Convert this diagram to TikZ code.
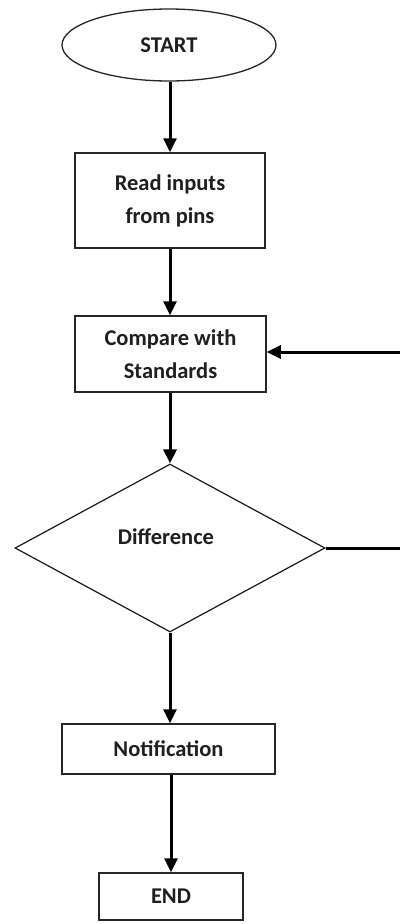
\documentclass[tikz,border=0pt]{standalone}
\usepackage{fontspec}
\setmainfont{Carlito}
\usetikzlibrary{shapes.geometric,arrows.meta,shadows}
\begin{document}
\begin{tikzpicture}[x=1pt,y=-1pt,
  every node/.style={font=\fontsize{22.5}{33}\selectfont\bfseries, text=black!88},
  procbox/.style={draw=black!85, line width=1.5pt, fill=white, rectangle, inner sep=0pt, align=center,
     drop shadow={shadow xshift=1.3pt, shadow yshift=-1.3pt, fill=black!45, opacity=1}},
  termshape/.style={draw=black!85, line width=1.3pt, ellipse, inner sep=0pt, fill=white},
  decshape/.style={draw=black!90, line width=1.2pt, diamond, inner sep=0pt, fill=white},
  flow/.style={line width=3pt, -{Triangle[width=13pt,length=14pt]}},
  plainline/.style={line width=3pt}]
\useasboundingbox (0,0) rectangle (400,924);
\node[termshape, minimum width=214pt, minimum height=72pt] (start) at (169,45) {START};
\node[procbox, minimum width=190pt, minimum height=95pt] (read) at (170,200.5) {Read inputs\\from pins};
\node[procbox, minimum width=191pt, minimum height=76pt] (cmp) at (170.5,354) {Compare with\\Standards};
\node[decshape, minimum width=310pt, minimum height=168pt] (diff) at (170,548) {};
\node (difftext) at (166,537) {Difference};
\node[procbox, minimum width=213pt, minimum height=50pt] (note) at (168.5,749) {Notification};
\node[procbox, minimum width=144pt, minimum height=47pt] (end) at (171,896.5) {END};
\coordinate (r1) at (400,548);
\coordinate (r2) at (400,352);
\draw[flow] (start.south -| read.north) -- (read.north);
\draw[flow] (read.south) -- (read.south |- cmp.north);
\draw[flow] (cmp.south -| diff.north) -- (diff.north);
\draw[flow] (diff.south) -- (diff.south |- note.north);
\draw[flow] (note.south -| end.north) -- (end.north);
\draw[plainline] (diff.east) -- (r1);
\draw[flow] (r2) -- (r2 -| cmp.east);
\end{tikzpicture}
\end{document}
